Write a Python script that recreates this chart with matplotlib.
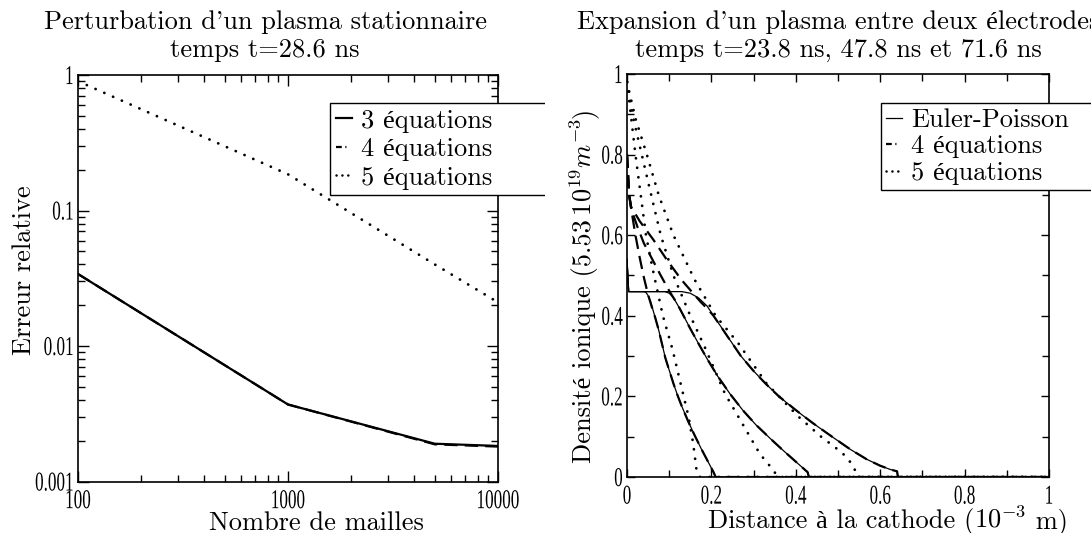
import numpy as np
import matplotlib
matplotlib.use("Agg")
import matplotlib.pyplot as plt
from matplotlib.patheffects import AbstractPathEffect
from matplotlib.transforms import Affine2D, Bbox, TransformedBbox
from matplotlib.ticker import LogLocator, NullFormatter, MultipleLocator
from matplotlib.lines import Line2D

# ---------------- data: left panel ----------------
mailles = [100, 1000, 5000, 10000]
err_3eq = [0.034, 0.0037, 0.0019, 0.00183]
err_4eq = [0.034, 0.0037, 0.00188, 0.00181]
err_5eq = [0.90, 0.185, 0.040, 0.021]
left_xticks = [100, 1000, 10000]
left_xticklabels = ["100", "1000", "10000"]
left_yticks = [0.001, 0.01, 0.1, 1]
left_yticklabels = ["0.001", "0.01", "0.1", "1"]
left_labels = ["3 équations", "4 équations", "5 équations"]

# ---------------- data: right panel ----------------
# Euler-Poisson (solid), t = 23.8, 47.8, 71.6 ns
ep1_x = [0, 0.004, 0.04, 0.045, 0.05, 0.055, 0.06, 0.067, 0.075, 0.083, 0.091, 0.10, 0.11, 0.12, 0.13,
         0.145, 0.16, 0.175, 0.19, 0.205, 0.21, 1.0]
ep1_y = [0.54, 0.46, 0.46, 0.458, 0.45, 0.438, 0.42, 0.395, 0.365, 0.33, 0.295, 0.265, 0.232, 0.202, 0.175,
         0.138, 0.104, 0.072, 0.042, 0.012, 0.0, 0.0]
ep2_x = [0, 0.004, 0.09, 0.10, 0.11, 0.12, 0.134, 0.15, 0.17, 0.19, 0.215, 0.245, 0.275, 0.305, 0.34,
         0.37, 0.40, 0.428, 0.431, 1.0]
ep2_y = [0.54, 0.46, 0.46, 0.456, 0.445, 0.427, 0.40, 0.368, 0.33, 0.293, 0.25, 0.205, 0.165, 0.13, 0.095,
         0.066, 0.038, 0.012, 0.0, 0.0]
ep3_x = [0, 0.004, 0.13, 0.15, 0.17, 0.19, 0.205, 0.22, 0.24, 0.27, 0.30, 0.33, 0.36, 0.40, 0.44, 0.49,
         0.53, 0.568, 0.60, 0.623, 0.64, 0.642, 1.0]
ep3_y = [0.54, 0.46, 0.46, 0.456, 0.444, 0.424, 0.40, 0.377, 0.346, 0.30, 0.263, 0.23, 0.20, 0.166, 0.134,
         0.097, 0.068, 0.044, 0.028, 0.019, 0.014, 0.0, 0.0]
# 4 equations (dashed)
eq4_1x = [0, 0.005, 0.01, 0.02, 0.03, 0.04, 0.05, 0.06, 0.067, 0.075, 0.083, 0.091, 0.10, 0.11, 0.12, 0.13,
          0.145, 0.16, 0.175, 0.19, 0.205, 0.21, 1.0]
eq4_1y = [0.80, 0.70, 0.665, 0.60, 0.545, 0.495, 0.452, 0.418, 0.395, 0.365, 0.33, 0.295, 0.265, 0.232, 0.202,
          0.175, 0.138, 0.104, 0.072, 0.042, 0.012, 0.0, 0.0]
eq4_2x = [0, 0.005, 0.01, 0.025, 0.04, 0.06, 0.08, 0.10, 0.12, 0.134, 0.15, 0.17, 0.19, 0.215, 0.245, 0.275,
          0.305, 0.34, 0.37, 0.40, 0.428, 0.431, 1.0]
eq4_2y = [0.80, 0.70, 0.665, 0.62, 0.58, 0.54, 0.50, 0.462, 0.428, 0.40, 0.368, 0.33, 0.293, 0.25, 0.205, 0.165,
          0.13, 0.095, 0.066, 0.038, 0.012, 0.0, 0.0]
eq4_3x = [0, 0.005, 0.01, 0.03, 0.063, 0.095, 0.13, 0.174, 0.19, 0.205, 0.22, 0.24, 0.27, 0.30, 0.33, 0.36,
          0.40, 0.44, 0.49, 0.53, 0.568, 0.60, 0.623, 0.64, 0.642, 1.0]
eq4_3y = [0.80, 0.70, 0.67, 0.635, 0.588, 0.538, 0.488, 0.435, 0.418, 0.40, 0.377, 0.346, 0.30, 0.263, 0.23, 0.20,
          0.166, 0.134, 0.097, 0.068, 0.044, 0.028, 0.019, 0.014, 0.0, 0.0]
# 5 equations (dotted)
eq5_1x = [0, 0.01, 0.02, 0.03, 0.045, 0.06, 0.085, 0.108, 0.127, 0.146, 0.157, 0.165, 0.173, 1.0]
eq5_1y = [0.98, 0.89, 0.80, 0.72, 0.60, 0.52, 0.40, 0.316, 0.232, 0.149, 0.082, 0.015, 0.0, 0.0]
eq5_2x = [0, 0.015, 0.035, 0.055, 0.08, 0.11, 0.15, 0.187, 0.232, 0.278, 0.315, 0.342, 0.358, 1.0]
eq5_2y = [0.98, 0.89, 0.80, 0.71, 0.60, 0.50, 0.40, 0.316, 0.207, 0.124, 0.057, 0.023, 0.0, 0.0]
eq5_3x = [0, 0.02, 0.047, 0.075, 0.11, 0.16, 0.21, 0.263, 0.33, 0.406, 0.46, 0.51, 0.535, 0.547, 1.0]
eq5_3y = [0.98, 0.89, 0.80, 0.70, 0.60, 0.49, 0.40, 0.333, 0.233, 0.15, 0.10, 0.06, 0.03, 0.0, 0.0]
right_xticks = [0, 0.2, 0.4, 0.6, 0.8, 1]
right_xticklabels = ["0", "0.2", "0.4", "0.6", "0.8", "1"]
right_yticks = [0, 0.2, 0.4, 0.6, 0.8, 1]
right_yticklabels = ["0", "0.2", "0.4", "0.6", "0.8", "1"]
right_labels = ["Euler-Poisson", "4 équations", "5 équations"]

# ---------------- style ----------------
plt.rcParams['font.family'] = ['cmr10', 'Liberation Serif']
plt.rcParams['mathtext.fontset'] = 'cm'
plt.rcParams['axes.formatter.use_mathtext'] = True
plt.rcParams['axes.unicode_minus'] = False

W, H = 1091, 533
fig = plt.figure(figsize=(W / 100, H / 100), dpi=100)


def fx(px):
    return px / W


def fy(py):
    return 1 - py / H


class Stretch(AbstractPathEffect):
    """Draw glyphs narrower and taller (condensed Times-like tick font)."""
    def __init__(self, sx=0.88, sy=1.4, anchor='center'):
        super().__init__()
        self.sx = sx
        self.sy = sy
        self.anchor = anchor

    def draw_path(self, renderer, gc, tpath, affine, rgbFace=None):
        ext = tpath.get_extents()
        if self.anchor == 'right':
            cx = ext.x1
        elif self.anchor == 'left':
            cx = ext.x0
        else:
            cx = 0.5 * (ext.x0 + ext.x1)
        cy = 0.5 * (ext.y0 + ext.y1)
        t = Affine2D().translate(-cx, -cy).scale(self.sx, self.sy).translate(cx, cy) + affine
        renderer.draw_path(gc, tpath, t, rgbFace)


TFS = 19        # CM text size
TICKFS = 14     # nominal tick label size (stretched when drawn)
tick_font = {'family': 'Liberation Serif', 'size': TICKFS}

dotted = (0, (0.05, 3.4))
dashed = (0, (6, 3.2))

# ---------------- left panel ----------------
ax1 = fig.add_axes([fx(78), fy(481.5), fx(420), 406.5 / H])
ax1.set_xscale('log')
ax1.set_yscale('log')
ax1.plot(mailles, err_3eq, color='black', lw=1.6, linestyle='-')
ax1.plot(mailles, err_4eq, color='black', lw=1.6, linestyle=dashed)
ax1.plot(mailles, err_5eq, color='black', lw=2.0, linestyle=dotted, dash_capstyle='round')
ax1.set_xlim(100, 10000)
ax1.set_ylim(0.001, 1)
ax1.set_xticks(left_xticks)
ax1.set_xticklabels(left_xticklabels, fontdict=tick_font)
ax1.set_yticks(left_yticks)
ax1.set_yticklabels(left_yticklabels, fontdict=tick_font)
ax1.xaxis.set_minor_locator(LogLocator(base=10, subs=np.arange(2, 10)))
ax1.yaxis.set_minor_locator(LogLocator(base=10, subs=np.arange(2, 10)))
ax1.xaxis.set_minor_formatter(NullFormatter())
ax1.yaxis.set_minor_formatter(NullFormatter())

# ---------------- right panel ----------------
ax2 = fig.add_axes([fx(627), fy(477), fx(422), 403 / H])
for xs, ys in ((ep1_x, ep1_y), (ep2_x, ep2_y), (ep3_x, ep3_y)):
    ax2.plot(xs, ys, color='black', lw=0.9, linestyle='-')
for xs, ys in ((eq4_1x, eq4_1y), (eq4_2x, eq4_2y), (eq4_3x, eq4_3y)):
    ax2.plot(xs, ys, color='black', lw=1.6, linestyle=dashed)
for xs, ys in ((eq5_1x, eq5_1y), (eq5_2x, eq5_2y), (eq5_3x, eq5_3y)):
    ax2.plot(xs, ys, color='black', lw=2.0, linestyle=dotted, dash_capstyle='round')
ax2.set_xlim(0, 1)
ax2.set_ylim(0, 1)
ax2.set_xticks(right_xticks)
ax2.set_xticklabels(right_xticklabels, fontdict=tick_font)
ax2.set_yticks(right_yticks)
ax2.set_yticklabels(right_yticklabels, fontdict=tick_font)
ax2.xaxis.set_minor_locator(MultipleLocator(0.1))
ax2.yaxis.set_minor_locator(MultipleLocator(0.1))

for ax in (ax1, ax2):
    for s in ax.spines.values():
        s.set_linewidth(1.2)
    ax.tick_params(which='both', direction='in', top=True, right=True, width=1.0)
    ax.tick_params(which='major', length=8)
    ax.tick_params(which='minor', length=5)
    ax.tick_params(axis='x', which='major', pad=8)
    ax.tick_params(axis='y', which='major', pad=3)
ax2.tick_params(which='major', length=6)

# ---------------- titles ----------------
fig.text(fx(265), fy(36), "Perturbation d'un plasma stationnaire\ntemps t=28.6 ns",
         ha='center', va='center', fontsize=TFS, linespacing=1.2)
fig.text(fx(838), fy(36), "Expansion d'un plasma entre deux électrodes\ntemps t=23.8 ns, 47.8 ns et 71.6 ns",
         ha='center', va='center', fontsize=TFS, linespacing=1.2)

# ---------------- axis labels ----------------
renderer = fig.canvas.get_renderer()


def chain_text(parts, c_px, base_px, rotation=0):
    """Place text pieces (plain text and math pieces) end to end, centred on c_px.
    For rotation=0: c_px is x from left, base_px the baseline from top.
    For rotation=90: c_px is y from bottom, base_px the baseline x from left."""
    widths = []
    for p in parts:
        t = fig.text(0, 0, p, fontsize=TFS)
        widths.append(t.get_window_extent(renderer).width)
        t.remove()
    pos = c_px - sum(widths) / 2.0
    for p, w in zip(parts, widths):
        if rotation == 0:
            fig.text(fx(pos), fy(base_px), p, fontsize=TFS, ha='left', va='baseline')
        else:
            fig.text(fx(base_px), pos / H, p, fontsize=TFS, ha='left', va='baseline',
                     rotation=90, rotation_mode='anchor')
        pos += w


fig.text(fx(316), fy(523), "Nombre de mailles", ha='center', va='center', fontsize=TFS)
fig.text(fx(24), fy(270), "Erreur relative", ha='center', va='center', rotation=90, fontsize=TFS)
chain_text(["Distance à la cathode (", r"$10^{-3}$", " m)"], 888, 528)
chain_text(["Densité ionique (5.53", r"$\,10^{19}m^{-3}$", ")"], H - 285, 591, rotation=90)

# ---------------- legends ----------------
h_solid_l = Line2D([], [], color='black', lw=1.6, ls='-')
h_dash_l = Line2D([], [], color='black', lw=1.6, ls=(0, (2.6, 1.6, 0.5, 10)))
h_dot_l = Line2D([], [], color='black', lw=1.8, ls=(0, (0.05, 2.3)), dash_capstyle='round')
leg1 = ax1.legend([h_solid_l, h_dash_l, h_dot_l], left_labels,
                  loc='upper left', bbox_to_anchor=(fx(330), fy(195), fx(260), 92 / H),
                  bbox_transform=fig.transFigure, mode='expand', borderaxespad=0,
                  fancybox=False, edgecolor='black', framealpha=1, fontsize=TFS,
                  handlelength=0.6, handletextpad=0.35, labelspacing=0.18, borderpad=0.22)
leg1.get_frame().set_linewidth(1.0)
leg1.get_frame().set_clip_on(True)
leg1.get_frame().set_clip_box(TransformedBbox(Bbox.from_extents(0, 0, fx(545), 1), fig.transFigure))

h_solid_r = Line2D([], [], color='black', lw=0.9, ls='-')
h_dash_r = Line2D([], [], color='black', lw=1.6, ls=(0, (2.6, 1.6, 0.5, 10)))
h_dot_r = Line2D([], [], color='black', lw=1.8, ls=(0, (0.05, 2.3)), dash_capstyle='round')
leg2 = ax2.legend([h_solid_r, h_dash_r, h_dot_r], right_labels,
                  loc='upper left', bbox_to_anchor=(fx(881), fy(189), fx(300), 86 / H),
                  bbox_transform=fig.transFigure, mode='expand', borderaxespad=0,
                  fancybox=False, edgecolor='black', framealpha=1, fontsize=TFS,
                  handlelength=0.6, handletextpad=0.35, labelspacing=0.1, borderpad=0.2)
leg2.get_frame().set_linewidth(1.0)

fig.canvas.draw()
for ax in (ax1, ax2):
    for lbl in ax.get_xticklabels():
        lbl.set_path_effects([Stretch(0.88, 1.4, 'center')])
    for lbl in ax.get_yticklabels():
        lbl.set_path_effects([Stretch(0.88, 1.4, 'right')])

fig.savefig("out.png", dpi=100)
